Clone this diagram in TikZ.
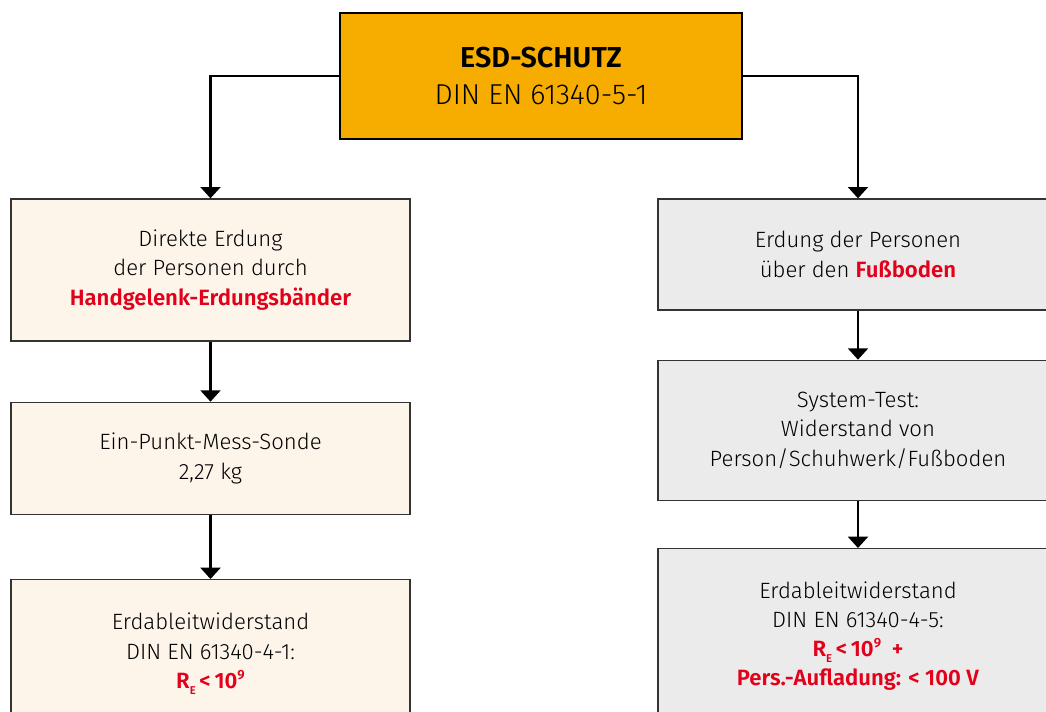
\documentclass[tikz,border=0pt]{standalone}
\usepackage{fontspec}
\setmainfont{Fira Sans}[UprightFont={* Light}, BoldFont={* SemiBold}]
\usetikzlibrary{positioning, arrows.meta}
\definecolor{esdOrange}{HTML}{F6AD00}
\definecolor{esdCream}{HTML}{FDF5EA}
\definecolor{esdGrey}{HTML}{EBEBEB}
\definecolor{esdRed}{HTML}{E2001A}
\tikzset{
  font=\fontsize{16.6}{21.9}\selectfont,
  head/.style={draw, line width=2.2pt, fill=esdOrange, minimum width=301.5pt, minimum height=94.5pt, align=center, font=\fontsize{21.6}{27.5}\selectfont},
  lbox/.style={draw=black!80, line width=1pt, fill=esdCream, minimum width=299.25pt, align=center},
  rbox/.style={draw=black!80, line width=1pt, fill=esdGrey, minimum width=300pt, align=center},
  link/.style={line width=1.6pt, -{Triangle[width=15pt,length=8.5pt]}}
}
\newcommand{\redbf}[1]{\textcolor{esdRed}{\textbf{#1}}}
\newcommand{\rwert}{R\raisebox{-0.5ex}{\fontsize{8.5}{9}\selectfont E}\,<\,10\raisebox{0.75ex}{\fontsize{10}{10}\selectfont 9}}

\begin{document}
\begin{tikzpicture}[x=0.75pt, y=-0.75pt]
    \useasboundingbox (0,0) rectangle (1046,711);
    \clip (0,0) rectangle (1046,711);

    \node[head] (esd) at (541,76) {\textbf{ESD-SCHUTZ}\\DIN EN 61340-5-1};

    % linker Zweig
    \node[lbox, minimum height=106.5pt] (hand) at (210.5,270) {Direkte Erdung\\der Personen durch\\\redbf{Handgelenk-Erdungsbänder}};
    \node[lbox, minimum height=84pt, below=45pt of hand] (sonde) {Ein-Punkt-Mess-Sonde\\2,27 kg};
    \node[lbox, minimum height=111pt, below=48pt of sonde] (erdl) {Erdableitwiderstand\\DIN EN 61340-4-1:\\\redbf{\rwert}};

    % rechter Zweig
    \node[rbox, minimum height=83.25pt] (boden) at (858,254.5) {Erdung der Personen\\über den \redbf{Fußboden}};
    \node[rbox, minimum height=105pt, below=36.75pt of boden] (systest) {System-Test:\\Widerstand von\\Person/Schuhwerk/Fußboden};
    \node[rbox, minimum height=131.25pt, below=35.25pt of systest] (erdr) {Erdableitwiderstand\\DIN EN 61340-4-5:\\\redbf{\rwert\ \ +}\\\redbf{Pers.-Aufladung: < 100 V}};

    \draw[link] (esd.west) -| (hand.north);
    \draw[link] (esd.east) -| (boden.north);
    \draw[link] (hand) -- (sonde);
    \draw[link] (sonde) -- (erdl);
    \draw[link] (boden) -- (systest);
    \draw[link] (systest) -- (erdr);
\end{tikzpicture}
\end{document}
